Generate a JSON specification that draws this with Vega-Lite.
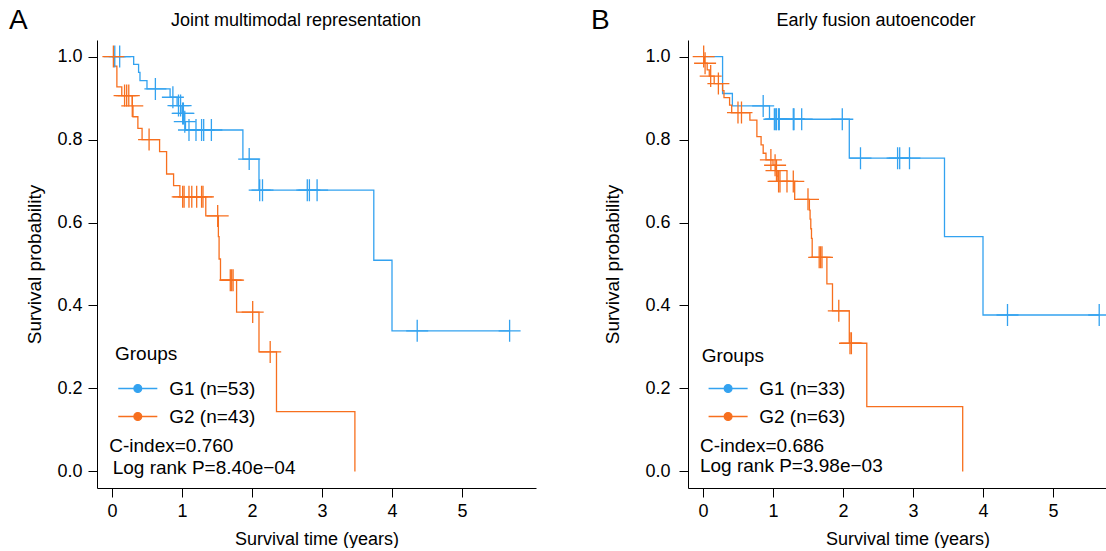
{
  "$schema": "https://vega.github.io/schema/vega-lite/v6.json",
  "background": "white",
  "padding": {"left": 9, "top": 7, "right": 0, "bottom": 0},
  "config": {
    "font": "Liberation Sans",
    "view": {"stroke": null},
    "axis": {"grid": false, "domainColor": "#000", "tickColor": "#000", "labelColor": "#000", "titleColor": "#000", "domainWidth": 1, "tickWidth": 1, "tickSize": 9, "labelFontSize": 18, "titleFontSize": 19, "titleFontWeight": "normal", "labelFont": "Liberation Sans", "titleFont": "Liberation Sans"},
    "legend": {"titleFontSize": 19, "titleFontWeight": "normal", "titleColor": "#000", "labelFontSize": 19, "labelColor": "#000", "titleFont": "Liberation Sans", "labelFont": "Liberation Sans"}
  },
  "datasets": {
    "kmA": [
      {"g": "G1 (n=53)", "k": "step", "t": 0, "s": 1},
      {"g": "G1 (n=53)", "k": "step", "t": 0.31, "s": 0.981},
      {"g": "G1 (n=53)", "k": "step", "t": 0.38, "s": 0.962},
      {"g": "G1 (n=53)", "k": "step", "t": 0.40, "s": 0.942},
      {"g": "G1 (n=53)", "k": "step", "t": 0.50, "s": 0.922},
      {"g": "G1 (n=53)", "k": "step", "t": 0.83, "s": 0.902},
      {"g": "G1 (n=53)", "k": "step", "t": 0.93, "s": 0.882},
      {"g": "G1 (n=53)", "k": "step", "t": 1.00, "s": 0.863},
      {"g": "G1 (n=53)", "k": "step", "t": 1.03, "s": 0.843},
      {"g": "G1 (n=53)", "k": "step", "t": 1.05, "s": 0.823},
      {"g": "G1 (n=53)", "k": "step", "t": 1.87, "s": 0.753},
      {"g": "G1 (n=53)", "k": "step", "t": 2.10, "s": 0.678},
      {"g": "G1 (n=53)", "k": "step", "t": 3.74, "s": 0.509},
      {"g": "G1 (n=53)", "k": "step", "t": 4.00, "s": 0.339},
      {"g": "G1 (n=53)", "k": "step", "t": 5.68, "s": 0.339},
      {"g": "G1 (n=53)", "k": "censor", "t": 0.04, "s": 1},
      {"g": "G1 (n=53)", "k": "censor", "t": 0.11, "s": 1},
      {"g": "G1 (n=53)", "k": "censor", "t": 0.62, "s": 0.922},
      {"g": "G1 (n=53)", "k": "censor", "t": 0.87, "s": 0.902},
      {"g": "G1 (n=53)", "k": "censor", "t": 0.95, "s": 0.882},
      {"g": "G1 (n=53)", "k": "censor", "t": 0.98, "s": 0.882},
      {"g": "G1 (n=53)", "k": "censor", "t": 1.01, "s": 0.863},
      {"g": "G1 (n=53)", "k": "censor", "t": 1.02, "s": 0.863},
      {"g": "G1 (n=53)", "k": "censor", "t": 1.04, "s": 0.843},
      {"g": "G1 (n=53)", "k": "censor", "t": 1.10, "s": 0.823},
      {"g": "G1 (n=53)", "k": "censor", "t": 1.20, "s": 0.823},
      {"g": "G1 (n=53)", "k": "censor", "t": 1.28, "s": 0.823},
      {"g": "G1 (n=53)", "k": "censor", "t": 1.31, "s": 0.823},
      {"g": "G1 (n=53)", "k": "censor", "t": 1.42, "s": 0.823},
      {"g": "G1 (n=53)", "k": "censor", "t": 1.96, "s": 0.753},
      {"g": "G1 (n=53)", "k": "censor", "t": 2.11, "s": 0.678},
      {"g": "G1 (n=53)", "k": "censor", "t": 2.15, "s": 0.678},
      {"g": "G1 (n=53)", "k": "censor", "t": 2.79, "s": 0.678},
      {"g": "G1 (n=53)", "k": "censor", "t": 2.82, "s": 0.678},
      {"g": "G1 (n=53)", "k": "censor", "t": 2.93, "s": 0.678},
      {"g": "G1 (n=53)", "k": "censor", "t": 4.36, "s": 0.339},
      {"g": "G1 (n=53)", "k": "censor", "t": 5.68, "s": 0.339},
      {"g": "G2 (n=43)", "k": "step", "t": 0, "s": 1},
      {"g": "G2 (n=43)", "k": "step", "t": 0.03, "s": 0.977},
      {"g": "G2 (n=43)", "k": "step", "t": 0.07, "s": 0.927},
      {"g": "G2 (n=43)", "k": "step", "t": 0.14, "s": 0.906},
      {"g": "G2 (n=43)", "k": "step", "t": 0.29, "s": 0.881},
      {"g": "G2 (n=43)", "k": "step", "t": 0.30, "s": 0.855},
      {"g": "G2 (n=43)", "k": "step", "t": 0.37, "s": 0.827},
      {"g": "G2 (n=43)", "k": "step", "t": 0.43, "s": 0.800},
      {"g": "G2 (n=43)", "k": "step", "t": 0.68, "s": 0.771},
      {"g": "G2 (n=43)", "k": "step", "t": 0.78, "s": 0.717},
      {"g": "G2 (n=43)", "k": "step", "t": 0.88, "s": 0.689},
      {"g": "G2 (n=43)", "k": "step", "t": 0.97, "s": 0.662},
      {"g": "G2 (n=43)", "k": "step", "t": 1.34, "s": 0.616},
      {"g": "G2 (n=43)", "k": "step", "t": 1.52, "s": 0.566},
      {"g": "G2 (n=43)", "k": "step", "t": 1.53, "s": 0.512},
      {"g": "G2 (n=43)", "k": "step", "t": 1.55, "s": 0.461},
      {"g": "G2 (n=43)", "k": "step", "t": 1.78, "s": 0.384},
      {"g": "G2 (n=43)", "k": "step", "t": 2.10, "s": 0.288},
      {"g": "G2 (n=43)", "k": "step", "t": 2.35, "s": 0.144},
      {"g": "G2 (n=43)", "k": "step", "t": 3.47, "s": 0.0},
      {"g": "G2 (n=43)", "k": "censor", "t": 0.02, "s": 1},
      {"g": "G2 (n=43)", "k": "censor", "t": 0.18, "s": 0.906},
      {"g": "G2 (n=43)", "k": "censor", "t": 0.21, "s": 0.906},
      {"g": "G2 (n=43)", "k": "censor", "t": 0.24, "s": 0.906},
      {"g": "G2 (n=43)", "k": "censor", "t": 0.29, "s": 0.881},
      {"g": "G2 (n=43)", "k": "censor", "t": 0.53, "s": 0.800},
      {"g": "G2 (n=43)", "k": "censor", "t": 1.01, "s": 0.662},
      {"g": "G2 (n=43)", "k": "censor", "t": 1.03, "s": 0.662},
      {"g": "G2 (n=43)", "k": "censor", "t": 1.10, "s": 0.662},
      {"g": "G2 (n=43)", "k": "censor", "t": 1.14, "s": 0.662},
      {"g": "G2 (n=43)", "k": "censor", "t": 1.21, "s": 0.662},
      {"g": "G2 (n=43)", "k": "censor", "t": 1.28, "s": 0.662},
      {"g": "G2 (n=43)", "k": "censor", "t": 1.30, "s": 0.662},
      {"g": "G2 (n=43)", "k": "censor", "t": 1.51, "s": 0.616},
      {"g": "G2 (n=43)", "k": "censor", "t": 1.69, "s": 0.461},
      {"g": "G2 (n=43)", "k": "censor", "t": 1.71, "s": 0.461},
      {"g": "G2 (n=43)", "k": "censor", "t": 1.73, "s": 0.461},
      {"g": "G2 (n=43)", "k": "censor", "t": 2.01, "s": 0.384},
      {"g": "G2 (n=43)", "k": "censor", "t": 2.26, "s": 0.288}
    ],
    "kmB": [
      {"g": "G1 (n=33)", "k": "step", "t": 0, "s": 1},
      {"g": "G1 (n=33)", "k": "step", "t": 0.28, "s": 0.911},
      {"g": "G1 (n=33)", "k": "step", "t": 0.42, "s": 0.881},
      {"g": "G1 (n=33)", "k": "step", "t": 0.95, "s": 0.849},
      {"g": "G1 (n=33)", "k": "step", "t": 2.09, "s": 0.755},
      {"g": "G1 (n=33)", "k": "step", "t": 3.45, "s": 0.566},
      {"g": "G1 (n=33)", "k": "step", "t": 4.00, "s": 0.377},
      {"g": "G1 (n=33)", "k": "step", "t": 5.66, "s": 0.377},
      {"g": "G1 (n=33)", "k": "censor", "t": 0.86, "s": 0.881},
      {"g": "G1 (n=33)", "k": "censor", "t": 1.02, "s": 0.849},
      {"g": "G1 (n=33)", "k": "censor", "t": 1.04, "s": 0.849},
      {"g": "G1 (n=33)", "k": "censor", "t": 1.05, "s": 0.849},
      {"g": "G1 (n=33)", "k": "censor", "t": 1.08, "s": 0.849},
      {"g": "G1 (n=33)", "k": "censor", "t": 1.09, "s": 0.849},
      {"g": "G1 (n=33)", "k": "censor", "t": 1.29, "s": 0.849},
      {"g": "G1 (n=33)", "k": "censor", "t": 1.30, "s": 0.849},
      {"g": "G1 (n=33)", "k": "censor", "t": 1.41, "s": 0.849},
      {"g": "G1 (n=33)", "k": "censor", "t": 1.99, "s": 0.849},
      {"g": "G1 (n=33)", "k": "censor", "t": 2.25, "s": 0.755},
      {"g": "G1 (n=33)", "k": "censor", "t": 2.78, "s": 0.755},
      {"g": "G1 (n=33)", "k": "censor", "t": 2.81, "s": 0.755},
      {"g": "G1 (n=33)", "k": "censor", "t": 2.95, "s": 0.755},
      {"g": "G1 (n=33)", "k": "censor", "t": 4.35, "s": 0.377},
      {"g": "G1 (n=33)", "k": "censor", "t": 5.66, "s": 0.377},
      {"g": "G2 (n=63)", "k": "step", "t": 0, "s": 1},
      {"g": "G2 (n=63)", "k": "step", "t": 0.02, "s": 0.984},
      {"g": "G2 (n=63)", "k": "step", "t": 0.06, "s": 0.968},
      {"g": "G2 (n=63)", "k": "step", "t": 0.09, "s": 0.953},
      {"g": "G2 (n=63)", "k": "step", "t": 0.16, "s": 0.935},
      {"g": "G2 (n=63)", "k": "step", "t": 0.28, "s": 0.918},
      {"g": "G2 (n=63)", "k": "step", "t": 0.30, "s": 0.901},
      {"g": "G2 (n=63)", "k": "step", "t": 0.38, "s": 0.883},
      {"g": "G2 (n=63)", "k": "step", "t": 0.41, "s": 0.865},
      {"g": "G2 (n=63)", "k": "step", "t": 0.67, "s": 0.847},
      {"g": "G2 (n=63)", "k": "step", "t": 0.77, "s": 0.807},
      {"g": "G2 (n=63)", "k": "step", "t": 0.83, "s": 0.787},
      {"g": "G2 (n=63)", "k": "step", "t": 0.86, "s": 0.767},
      {"g": "G2 (n=63)", "k": "step", "t": 0.90, "s": 0.751},
      {"g": "G2 (n=63)", "k": "step", "t": 1.00, "s": 0.738},
      {"g": "G2 (n=63)", "k": "step", "t": 1.04, "s": 0.725},
      {"g": "G2 (n=63)", "k": "step", "t": 1.06, "s": 0.712},
      {"g": "G2 (n=63)", "k": "step", "t": 1.07, "s": 0.699},
      {"g": "G2 (n=63)", "k": "step", "t": 1.31, "s": 0.656},
      {"g": "G2 (n=63)", "k": "step", "t": 1.52, "s": 0.630},
      {"g": "G2 (n=63)", "k": "step", "t": 1.53, "s": 0.608},
      {"g": "G2 (n=63)", "k": "step", "t": 1.54, "s": 0.585},
      {"g": "G2 (n=63)", "k": "step", "t": 1.55, "s": 0.562},
      {"g": "G2 (n=63)", "k": "step", "t": 1.56, "s": 0.516},
      {"g": "G2 (n=63)", "k": "step", "t": 1.77, "s": 0.452},
      {"g": "G2 (n=63)", "k": "step", "t": 1.85, "s": 0.387},
      {"g": "G2 (n=63)", "k": "step", "t": 2.09, "s": 0.309},
      {"g": "G2 (n=63)", "k": "step", "t": 2.34, "s": 0.156},
      {"g": "G2 (n=63)", "k": "step", "t": 3.71, "s": 0.0},
      {"g": "G2 (n=63)", "k": "censor", "t": 0.01, "s": 1},
      {"g": "G2 (n=63)", "k": "censor", "t": 0.03, "s": 0.984},
      {"g": "G2 (n=63)", "k": "censor", "t": 0.11, "s": 0.953},
      {"g": "G2 (n=63)", "k": "censor", "t": 0.22, "s": 0.935},
      {"g": "G2 (n=63)", "k": "censor", "t": 0.50, "s": 0.865},
      {"g": "G2 (n=63)", "k": "censor", "t": 0.55, "s": 0.865},
      {"g": "G2 (n=63)", "k": "censor", "t": 0.97, "s": 0.751},
      {"g": "G2 (n=63)", "k": "censor", "t": 1.03, "s": 0.738},
      {"g": "G2 (n=63)", "k": "censor", "t": 1.05, "s": 0.725},
      {"g": "G2 (n=63)", "k": "censor", "t": 1.08, "s": 0.699},
      {"g": "G2 (n=63)", "k": "censor", "t": 1.10, "s": 0.699},
      {"g": "G2 (n=63)", "k": "censor", "t": 1.20, "s": 0.699},
      {"g": "G2 (n=63)", "k": "censor", "t": 1.29, "s": 0.699},
      {"g": "G2 (n=63)", "k": "censor", "t": 1.50, "s": 0.656},
      {"g": "G2 (n=63)", "k": "censor", "t": 1.66, "s": 0.516},
      {"g": "G2 (n=63)", "k": "censor", "t": 1.68, "s": 0.516},
      {"g": "G2 (n=63)", "k": "censor", "t": 1.70, "s": 0.516},
      {"g": "G2 (n=63)", "k": "censor", "t": 1.94, "s": 0.387},
      {"g": "G2 (n=63)", "k": "censor", "t": 2.10, "s": 0.309},
      {"g": "G2 (n=63)", "k": "censor", "t": 2.12, "s": 0.309}
    ]
  },
  "bounds": "flush",
  "spacing": 152,
  "resolve": {"scale": {"color": "independent", "stroke": "independent", "x": "independent", "y": "independent"}, "legend": {"color": "independent", "stroke": "independent"}},
  "hconcat": [
    {
      "width": 439,
      "height": 448,
      "data": {"name": "kmA"},
      "layer": [
        {
          "transform": [{"filter": "datum.k == 'step'"}],
          "mark": {"type": "line", "interpolate": "step-after", "strokeWidth": 1.3},
          "encoding": {
            "x": {"field": "t", "type": "quantitative", "scale": {"domain": [-0.214, 6.057], "nice": false, "zero": false}, "axis": {"values": [0, 1, 2, 3, 4, 5], "format": "d", "title": "Survival time (years)", "titleFontSize": 18, "labelPadding": 5, "titlePadding": 10}},
            "y": {"field": "s", "type": "quantitative", "scale": {"domain": [-0.04, 1.04], "nice": false, "zero": false}, "axis": {"values": [0, 0.2, 0.4, 0.6, 0.8, 1], "format": ".1f", "title": "Survival probability", "labelPadding": 6, "titlePadding": 12}},
            "color": {"field": "g", "type": "nominal", "scale": {"domain": ["G1 (n=53)", "G2 (n=43)"], "range": ["#33A2F0", "#F76F1E"]},
              "legend": {"orient": "none", "legendX": 18, "legendY": 305, "title": "Groups", "padding": 0, "symbolType": "M-5,0L5,0M1,0A1,1 0 1,1 -1,0A1,1 0 1,1 1,0Z", "symbolSize": 61, "symbolStrokeWidth": 1.3, "symbolOffset": 13.3, "labelOffset": 21.9, "rowPadding": 8, "titlePadding": 15,
                "encode": {"symbols": {"update": {"fill": {"signal": "indexof(datum.value, 'G1') === 0 ? '#33A2F0' : '#F76F1E'"}}}}}}
          }
        },
        {
          "transform": [{"filter": "datum.k == 'censor'"}],
          "mark": {"type": "point", "shape": "M-1,0L1,0M0,-1L0,1", "size": 484, "filled": false, "strokeWidth": 1.3, "opacity": 1},
          "encoding": {
            "x": {"field": "t", "type": "quantitative"},
            "y": {"field": "s", "type": "quantitative"},
            "stroke": {"field": "g", "type": "nominal", "scale": {"domain": ["G1 (n=53)", "G2 (n=43)"], "range": ["#33A2F0", "#F76F1E"]}, "legend": null}
          }
        },
        {
          "data": {"values": [{"label": "C-index=0.760"}]},
          "mark": {"type": "text", "align": "left", "baseline": "middle", "fontSize": 19, "color": "#000"},
          "encoding": {"x": {"datum": -0.039}, "y": {"datum": 0.062}, "text": {"field": "label"}}
        },
        {
          "data": {"values": [{"label": "Log rank P=8.40e\u221204"}]},
          "mark": {"type": "text", "align": "left", "baseline": "middle", "fontSize": 19, "color": "#000"},
          "encoding": {"x": {"datum": 0.01}, "y": {"datum": 0.008}, "text": {"field": "label"}}
        },
        {
          "data": {"values": [{"label": "A"}]},
          "mark": {"type": "text", "align": "left", "baseline": "middle", "fontSize": 28, "color": "#000"},
          "encoding": {"x": {"datum": -1.471}, "y": {"datum": 1.0858}, "text": {"field": "label"}}
        },
        {
          "data": {"values": [{"label": "Joint multimodal representation"}]},
          "mark": {"type": "text", "align": "center", "baseline": "middle", "fontSize": 18, "color": "#000"},
          "encoding": {"x": {"datum": 2.629}, "y": {"datum": 1.0858}, "text": {"field": "label"}}
        }
      ]
    },
    {
      "width": 439,
      "height": 448,
      "data": {"name": "kmB"},
      "layer": [
        {
          "transform": [{"filter": "datum.k == 'step'"}],
          "mark": {"type": "line", "interpolate": "step-after", "strokeWidth": 1.3},
          "encoding": {
            "x": {"field": "t", "type": "quantitative", "scale": {"domain": [-0.214, 6.057], "nice": false, "zero": false}, "axis": {"values": [0, 1, 2, 3, 4, 5], "format": "d", "title": "Survival time (years)", "titleFontSize": 18, "labelPadding": 5, "titlePadding": 10}},
            "y": {"field": "s", "type": "quantitative", "scale": {"domain": [-0.04, 1.04], "nice": false, "zero": false}, "axis": {"values": [0, 0.2, 0.4, 0.6, 0.8, 1], "format": ".1f", "title": "Survival probability", "labelPadding": 9, "titlePadding": 22}},
            "color": {"field": "g", "type": "nominal", "scale": {"domain": ["G1 (n=33)", "G2 (n=63)"], "range": ["#33A2F0", "#F76F1E"]},
              "legend": {"orient": "none", "legendX": 13.7, "legendY": 307, "title": "Groups", "padding": 0, "symbolType": "M-5,0L5,0M1,0A1,1 0 1,1 -1,0A1,1 0 1,1 1,0Z", "symbolSize": 61, "symbolStrokeWidth": 1.3, "symbolOffset": 16.9, "labelOffset": 21.6, "rowPadding": 8, "titlePadding": 13,
                "encode": {"symbols": {"update": {"fill": {"signal": "indexof(datum.value, 'G1') === 0 ? '#33A2F0' : '#F76F1E'"}}}}}}
          }
        },
        {
          "transform": [{"filter": "datum.k == 'censor'"}],
          "mark": {"type": "point", "shape": "M-1,0L1,0M0,-1L0,1", "size": 484, "filled": false, "strokeWidth": 1.3, "opacity": 1},
          "encoding": {
            "x": {"field": "t", "type": "quantitative"},
            "y": {"field": "s", "type": "quantitative"},
            "stroke": {"field": "g", "type": "nominal", "scale": {"domain": ["G1 (n=33)", "G2 (n=63)"], "range": ["#33A2F0", "#F76F1E"]}, "legend": null}
          }
        },
        {
          "data": {"values": [{"label": "C-index=0.686"}]},
          "mark": {"type": "text", "align": "left", "baseline": "middle", "fontSize": 19, "color": "#000"},
          "encoding": {"x": {"datum": -0.043}, "y": {"datum": 0.062}, "text": {"field": "label"}}
        },
        {
          "data": {"values": [{"label": "Log rank P=3.98e\u221203"}]},
          "mark": {"type": "text", "align": "left", "baseline": "middle", "fontSize": 19, "color": "#000"},
          "encoding": {"x": {"datum": -0.043}, "y": {"datum": 0.012}, "text": {"field": "label"}}
        },
        {
          "data": {"values": [{"label": "B"}]},
          "mark": {"type": "text", "align": "left", "baseline": "middle", "fontSize": 28, "color": "#000"},
          "encoding": {"x": {"datum": -1.6}, "y": {"datum": 1.0858}, "text": {"field": "label"}}
        },
        {
          "data": {"values": [{"label": "Early fusion autoencoder"}]},
          "mark": {"type": "text", "align": "center", "baseline": "middle", "fontSize": 18, "color": "#000"},
          "encoding": {"x": {"datum": 2.472}, "y": {"datum": 1.0858}, "text": {"field": "label"}}
        }
      ]
    }
  ]
}
